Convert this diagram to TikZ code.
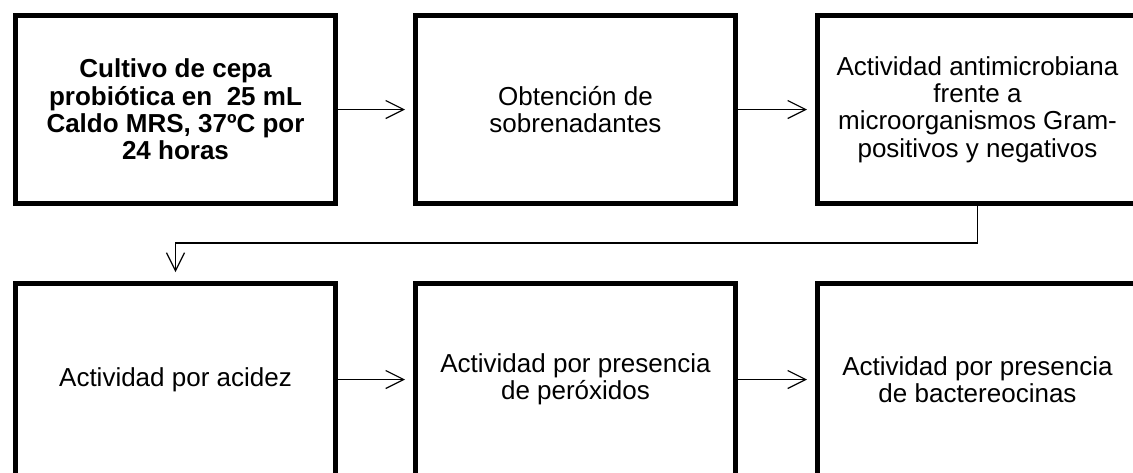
\documentclass[tikz,border=0pt]{standalone}
\usepackage{fontspec}
\setmainfont{Liberation Sans}
\usetikzlibrary{arrows.meta,positioning}

\begin{document}
\begin{tikzpicture}[x=0.75pt,y=-0.75pt,
  paso/.style={draw,line width=3.75pt,minimum width=240pt,minimum height=141pt,
    align=center,inner sep=2pt,font=\fontsize{19.5}{20.5}\selectfont},
  flecha/.style={line width=0.9pt,-{Straight Barb[length=13.5pt,width=13.5pt,line width=0.9pt]}}]
\useasboundingbox (0,0) rectangle (1133,472);
%%Fila superior
\node[paso] (cultivo) at (175.5,109.5) {\bfseries Cultivo de cepa\\\bfseries probiótica en\ \ 25 mL\\\bfseries Caldo MRS, 37ºC por\\\bfseries 24 horas};
\node[paso] (sobren) at (575.5,109.5) {Obtención de\\sobrenadantes};
\node[paso] (antimic) at (977.5,109.5) {Actividad antimicrobiana\\frente a\\microorganismos Gram-\\positivos y negativos};

%%Fila inferior
\node[paso,minimum height=144pt] (acidez) at (175.5,379.5) {Actividad por acidez};
\node[paso,minimum height=144pt] (perox) at (575.5,379.5) {Actividad por presencia\\de peróxidos};
\node[paso,minimum height=144pt] (bacter) at (977.5,379.5) {Actividad por presencia\\de bactereocinas};

%%Conexiones
\draw[flecha,shorten >=6pt] (cultivo) -- (sobren);
\draw[flecha,shorten >=6pt] (sobren) -- (antimic);
\draw[flecha,shorten >=6.75pt] (antimic.south) -- ++(0,37) -| (acidez.north);
\draw[flecha,shorten >=6pt] (acidez) -- (perox);
\draw[flecha,shorten >=6pt] (perox) -- (bacter);

\end{tikzpicture}
\end{document}
